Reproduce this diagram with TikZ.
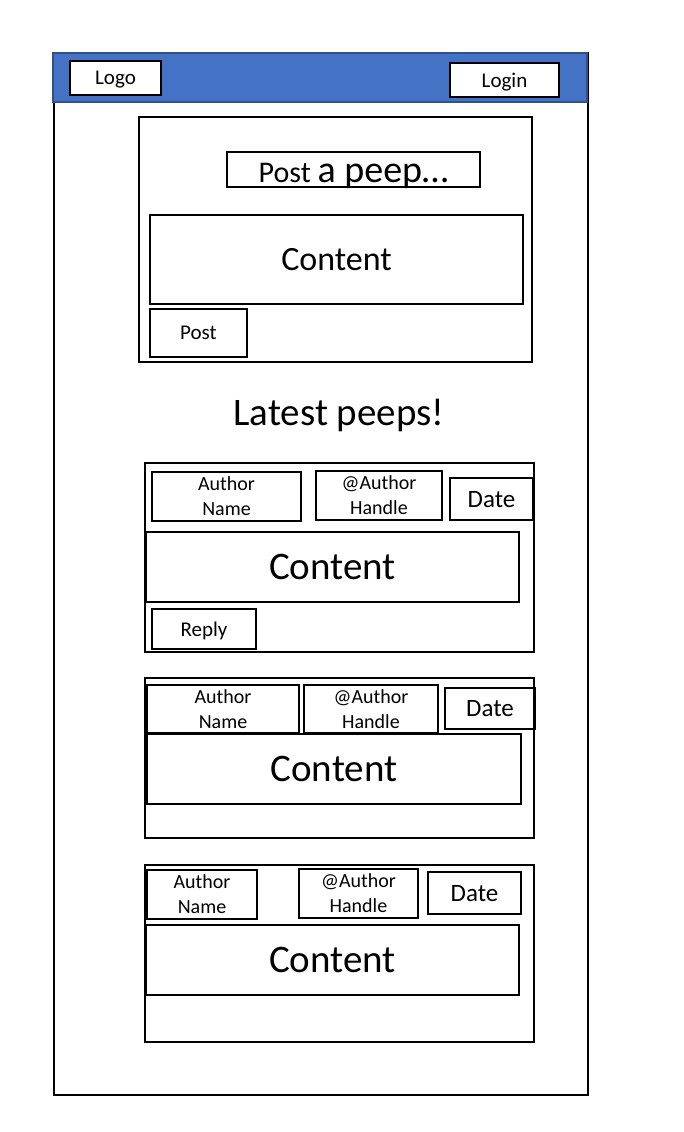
\documentclass[tikz,border=0pt]{standalone}
\usepackage{fontspec}
\setmainfont{Carlito}
\usepackage{xcolor}
\definecolor{headblue}{HTML}{4472C4}
\definecolor{headline}{HTML}{2F528F}
\newcommand{\pxfont}[1]{\fontsize{#1}{#1}\selectfont}

\begin{document}
\begin{tikzpicture}[x=1pt, y=-1pt,
    box/.style={draw, line width=2pt, inner sep=0pt, outer sep=0pt},
    small/.style={font=\pxfont{21}, text depth=0pt},
    twoline/.style={font=\fontsize{20}{25}\selectfont, align=center},
    datebox/.style={box, font=\pxfont{25}, text depth=0pt},
    bigtext/.style={box, font=\pxfont{39}}]
    \useasboundingbox (0,0) rectangle (684,1132);

    \node[box, minimum width=534, minimum height=1042] (frame) at (321,574) {};
    \node[box, draw=headline, fill=headblue, minimum width=534, minimum height=49] (header) at (320,77.5) {};
    \node[box, fill=white, small, minimum width=91, minimum height=34] (logo) at (115.5,78) {Logo};
    \node[box, fill=white, small, minimum width=109, minimum height=34] (login) at (504.5,80) {Login};

    \node[box, minimum width=393, minimum height=245] (postform) at (335.5,239.5) {};
    \node[box, minimum width=253, minimum height=35, text height=26pt, text depth=0pt] (prompt) at (353.5,169.5)
        {{\pxfont{30}Post }{\pxfont{38}a peep…}};
    \node[box, font=\pxfont{34}, minimum width=373, minimum height=89] (formcontent) at (336.5,259.5) {Content};
    \node[box, small, minimum width=97, minimum height=48] (postbtn) at (198.5,333) {Post};

    \node[font=\pxfont{39}] (latest) at (339,415) {Latest peeps!};

    \node[box, minimum width=389, minimum height=189] (card1) at (339.5,557.5) {};
    \node[box, twoline, minimum width=149, minimum height=49] (name1) at (226.5,496.5) {Author\\Name};
    \node[box, twoline, minimum width=126, minimum height=49] (handle1) at (379,495.5) {@Author\\Handle};
    \node[datebox, minimum width=83, minimum height=42] (date1) at (491.5,499) {Date};
    \node[bigtext, minimum width=373, minimum height=70] (content1) at (332.5,567) {Content};
    \node[box, small, minimum width=104, minimum height=40] (reply) at (204,629) {Reply};

    \node[box, minimum width=389, minimum height=160] (card2) at (339.5,758) {};
    \node[box, twoline, minimum width=152, minimum height=48] (name2) at (223,709) {Author\\Name};
    \node[box, twoline, minimum width=134, minimum height=48] (handle2) at (371,709) {@Author\\Handle};
    \node[datebox, minimum width=90, minimum height=41] (date2) at (490,708.5) {Date};
    \node[bigtext, minimum width=374, minimum height=70] (content2) at (334,769) {Content};

    \node[box, minimum width=389, minimum height=177] (card3) at (339.5,953.5) {};
    \node[box, twoline, minimum width=110, minimum height=49] (name3) at (202,894.5) {Author\\Name};
    \node[box, twoline, minimum width=119, minimum height=49] (handle3) at (358.5,893.5) {@Author\\Handle};
    \node[datebox, minimum width=93, minimum height=42] (date3) at (474.5,893) {Date};
    \node[bigtext, minimum width=373, minimum height=70] (content3) at (332.5,960) {Content};
\end{tikzpicture}
\end{document}
